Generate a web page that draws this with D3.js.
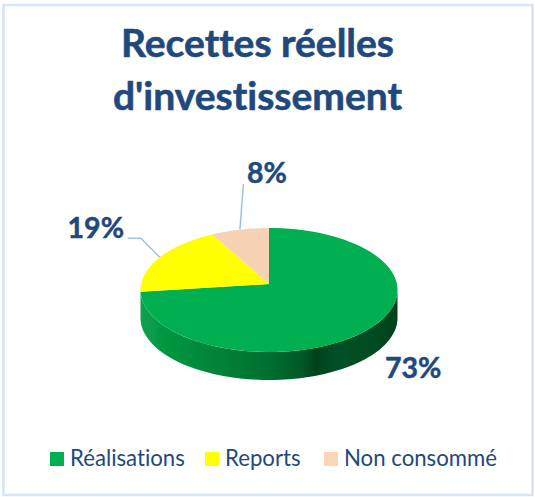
<!DOCTYPE html>
<html><head><meta charset="utf-8">
<script src="https://cdnjs.cloudflare.com/ajax/libs/d3/7.8.5/d3.min.js"></script>
<style>html,body{margin:0;padding:0;background:#fff}svg{display:block}text{font-variant-ligatures:none}</style>
</head><body><div id="c"></div>
<script>
const categories = ["Réalisations", "Reports", "Non consommé"];
const values = [73, 19, 8];
const colors = ["#00b050", "#ffff00", "#f8d2b4"];
const titleLines = ["Recettes réelles", "d'investissement"];
(function(){
const W = 535, H = 497;
const svg = d3.select("#c").append("svg").attr("width", W).attr("height", H);
const ink = "#1f497d", font = "Lato, 'Open Sans', sans-serif";

svg.append("rect").attr("x",3.5).attr("y",5).attr("width",529).attr("height",490)
  .attr("fill","#fff").attr("stroke","#d6e4f3").attr("stroke-width",2.5);

svg.append("g").selectAll("text").data(titleLines).join("text")
  .attr("x",257.5).attr("y",(d,i)=>57+i*52.5).attr("text-anchor","middle")
  .attr("font-family",font).attr("font-weight",700).attr("font-size",39).attr("fill",ink)
  .attr("stroke",ink).attr("stroke-width",0.6).text(d=>d);

// perspective-tilted disc
const cx=269, ay=284, rx=127.9, ry=61.4, p=0.0968, depth=28;
const proj=(a,r=1,dy=0)=>{const w=1+p*Math.cos(a)*r;return [cx+rx*r*Math.sin(a)/w, ay-ry*r*Math.cos(a)/w+dy];};
const line=d3.line().curve(d3.curveLinear);
const pie=d3.pie().sort(null).value(d=>d)(values);
const arcPts=(a0,a1,dy=0)=>d3.range(0,81).map(i=>proj(a0+(a1-a0)*i/80,1,dy));

const defs=svg.append("defs");
const grad=defs.append("linearGradient").attr("id","wall").attr("gradientUnits","userSpaceOnUse")
  .attr("x1",cx-rx).attr("x2",cx+rx).attr("y1",0).attr("y2",0);
[[0,"#0aa052"],[.1,"#04973f"],[.3,"#008238"],[.5,"#006f30"],[.62,"#005a28"],[.685,"#00421c"],[.76,"#005026"],[.88,"#004d22"],[1,"#00421c"]]
  .forEach(s=>grad.append("stop").attr("offset",s[0]).attr("stop-color",s[1]));
defs.append("filter").attr("id","soft").attr("x","-5%").attr("y","-5%").attr("width","110%").attr("height","115%")
  .append("feGaussianBlur").attr("stdDeviation",0.7);

// side wall: front half of the rim (visible from right extreme to left extreme)
const aR=Math.acos(-p), aL=2*Math.PI-aR;
const rimTop=arcPts(aR,aL), rimBottom=arcPts(aL,aR,depth);
svg.append("path").attr("d",line(rimTop.concat(rimBottom))+"Z").attr("fill","url(#wall)").attr("filter","url(#soft)");

svg.append("g").selectAll("path").data(pie).join("path")
  .attr("d",d=>line([proj(0,0)].concat(arcPts(d.startAngle,d.endAngle)))+"Z")
  .attr("fill",(d,i)=>colors[i]);

// labels with optional leader lines (offsets from the slice mid-angle point)
const labelSpec=[
  {anchor:"start",leader:null},
  {anchor:"end",leader:[[-19,-19],[-32,-19]]},
  {anchor:"start",leader:[[3.5,-45.5]]}
];
pie.forEach((d,i)=>{
  const mid=(d.startAngle+d.endAngle)/2, m=proj(mid), s=labelSpec[i];
  if(s.leader){
    svg.append("path").attr("fill","none").attr("stroke","#9dc3e6").attr("stroke-width",1.5)
      .attr("d",line([m].concat(s.leader.map(o=>[m[0]+o[0],m[1]+o[1]]))));
  }
});
const labelPos=[[385,378],[124,238],[247,183]];
svg.append("g").selectAll("text").data(values).join("text")
  .attr("x",(d,i)=>labelPos[i][0]).attr("y",(d,i)=>labelPos[i][1])
  .attr("text-anchor",(d,i)=>labelSpec[i].anchor)
  .attr("font-family",font).attr("font-weight",700).attr("font-size",28.5).attr("fill",ink)
  .attr("stroke",ink).attr("stroke-width",0.5)
  .text(d=>d+"%");

// legend
const legX=[50,205,324];
const leg=svg.append("g").selectAll("g").data(categories).join("g")
  .attr("transform",(d,i)=>`translate(${legX[i]},452)`);
leg.append("rect").attr("width",14).attr("height",14).attr("fill",(d,i)=>i===2?"#fcd5b5":colors[i]);
leg.append("text").attr("x",20).attr("y",14).attr("font-family",font).attr("font-size",22.2).attr("fill",ink).text(d=>d);
})();
</script></body></html>
